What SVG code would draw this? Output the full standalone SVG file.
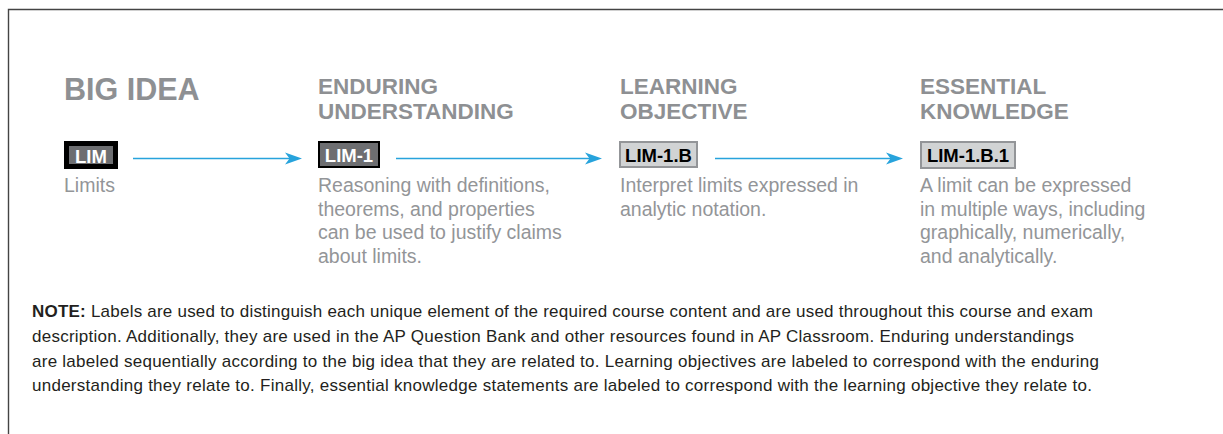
<svg xmlns="http://www.w3.org/2000/svg" width="1223" height="434" viewBox="0 0 1223 434">
<style>
.head{font-family:"Liberation Sans",Arial,sans-serif;font-weight:bold;fill:#8e9093;}
.h2{font-size:22.5px;}
.h1{font-size:30.5px;}
.desc{font-family:"Liberation Sans",Arial,sans-serif;font-size:19.5px;fill:#939598;}
.lbl{font-family:"Liberation Sans",Arial,sans-serif;font-weight:bold;font-size:18.5px;text-anchor:middle;}
.dark{fill:#6d6e71;stroke:#000;}
.light{fill:#d1d3d4;stroke:#939598;stroke-width:2;}
.note{font-family:"Liberation Sans",Arial,sans-serif;font-size:17px;fill:#231f20;}
.arrow{stroke:#27a3dc;stroke-width:1.6;fill:none;marker-end:url(#ah);}
</style>
<defs>
<marker id="ah" markerUnits="userSpaceOnUse" markerWidth="18" markerHeight="14" viewBox="0 0 18 14" refX="7" refY="7" orient="auto">
<path d="M0,1 L17,7 L0,13 L4.5,7 Z" fill="#27a3dc"/>
</marker>
</defs>
<rect width="1223" height="434" fill="#fff"/>
<path d="M8.5,434 V9.5 H1223" fill="none" stroke="#444" stroke-width="1.4"/>

<g id="big-idea">
<text class="head h1" x="64" y="100">BIG IDEA</text>
<rect class="dark" x="66.5" y="143.5" width="49" height="23" stroke-width="5"/>
<text class="lbl" x="91" y="162.5" fill="#fff">LIM</text>
<text class="desc" x="64" y="192">Limits</text>
</g>

<g id="enduring-understanding">
<text class="head h2" x="318" y="94">ENDURING</text>
<text class="head h2" x="318" y="119">UNDERSTANDING</text>
<rect class="dark" x="319" y="142" width="60" height="25" stroke-width="2"/>
<text class="lbl" x="349" y="161.5" fill="#fff">LIM-1</text>
<text class="desc" x="318" y="192">Reasoning with definitions,</text>
<text class="desc" x="318" y="215.5">theorems, and properties</text>
<text class="desc" x="318" y="239">can be used to justify claims</text>
<text class="desc" x="318" y="262.5">about limits.</text>
</g>

<g id="learning-objective">
<text class="head h2" x="620" y="94">LEARNING</text>
<text class="head h2" x="620" y="119">OBJECTIVE</text>
<rect class="light" x="620" y="142" width="77" height="25"/>
<text class="lbl" x="658.5" y="161.5" fill="#000">LIM-1.B</text>
<text class="desc" x="620" y="192">Interpret limits expressed in</text>
<text class="desc" x="620" y="215.5">analytic notation.</text>
</g>

<g id="essential-knowledge">
<text class="head h2" x="920" y="94">ESSENTIAL</text>
<text class="head h2" x="920" y="119">KNOWLEDGE</text>
<rect class="light" x="921" y="142" width="94" height="26"/>
<text class="lbl" x="968" y="161.5" fill="#000">LIM-1.B.1</text>
<text class="desc" x="920" y="192">A limit can be expressed</text>
<text class="desc" x="920" y="215.5">in multiple ways, including</text>
<text class="desc" x="920" y="239">graphically, numerically,</text>
<text class="desc" x="920" y="262.5">and analytically.</text>
</g>

<g id="connectors">
<line class="arrow" x1="133" y1="158.5" x2="292" y2="158.5"/>
<line class="arrow" x1="396" y1="158.5" x2="592" y2="158.5"/>
<line class="arrow" x1="715" y1="158.5" x2="893" y2="158.5"/>
</g>

<g id="note">
<text class="note" x="32" y="317" textLength="1061" lengthAdjust="spacing"><tspan font-weight="bold">NOTE:</tspan> Labels are used to distinguish each unique element of the required course content and are used throughout this course and exam</text>
<text class="note" x="32" y="341.5" textLength="1042" lengthAdjust="spacing">description. Additionally, they are used in the AP Question Bank and other resources found in AP Classroom. Enduring understandings</text>
<text class="note" x="32" y="366.5" textLength="1067" lengthAdjust="spacing">are labeled sequentially according to the big idea that they are related to. Learning objectives are labeled to correspond with the enduring</text>
<text class="note" x="32" y="391" textLength="1060" lengthAdjust="spacing">understanding they relate to. Finally, essential knowledge statements are labeled to correspond with the learning objective they relate to.</text>
</g>
</svg>
